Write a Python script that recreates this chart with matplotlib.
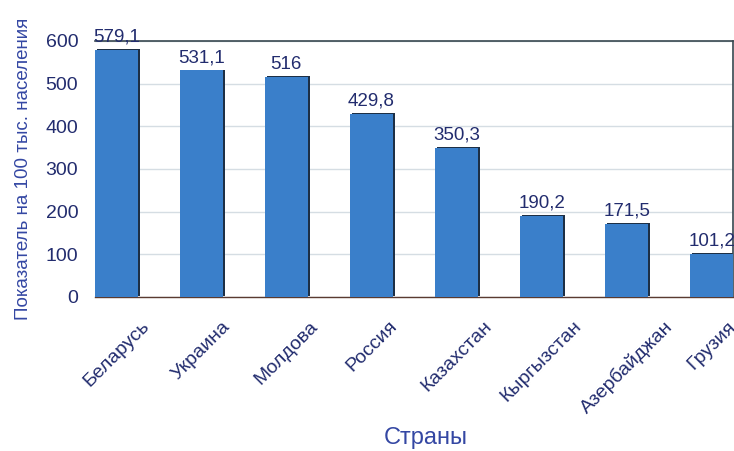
import matplotlib
matplotlib.use("Agg")
import matplotlib.pyplot as plt
import matplotlib.transforms as mtransforms
import numpy as np

countries = ["Беларусь", "Украина", "Молдова", "Россия", "Казахстан",
             "Кыргызстан", "Азербайджан", "Грузия"]
values = [579.1, 531.1, 516, 429.8, 350.3, 190.2, 171.5, 101.2]
yticks = [0, 100, 200, 300, 400, 500, 600]

plt.rcParams["font.family"] = ["Liberation Sans", "DejaVu Sans"]

bar_color = "#3a7fca"
text_color = "#222c6e"
label_color = "#3447a3"

fig = plt.figure(figsize=(7.34, 4.51), dpi=100)
ax = fig.add_axes([0.1294, 0.3415, 0.8692, 0.5676])

x = np.arange(len(countries))

# dark shadow shifted to the right, then the blue bars on top
shadow = mtransforms.offset_copy(ax.transData, fig=fig, x=2, y=0.5, units="dots")
ax.bar(x, values, width=0.5, color="#1d2f45", transform=shadow, zorder=2)
ax.bar(x, values, width=0.5, color=bar_color, zorder=3)

for xi, v in zip(x, values):
    txt = f"{v:g}".replace(".", ",")
    ax.annotate(txt, (xi, v), xytext=(0, 3), textcoords="offset points",
                ha="center", va="bottom", fontsize=13.5, color=text_color,
                zorder=5, annotation_clip=False)

ax.set_xlim(-0.25, len(countries) - 0.75)
ax.set_ylim(0, 600)
ax.set_yticks(yticks)
ax.set_yticklabels([str(t) for t in yticks], fontsize=14, color=text_color)
ax.tick_params(axis="y", length=0, pad=12)
ax.tick_params(axis="x", length=0, pad=15)
ax.set_xticks(x)
ax.set_xticklabels(countries, rotation=45, ha="center", va="top",
                   fontsize=14, color=text_color)

ax.grid(axis="y", color="#d5dde3", linewidth=1.0, zorder=0)
ax.set_axisbelow(True)

ax.spines["left"].set_visible(False)
for side in ("top", "right"):
    ax.spines[side].set_color("#37474f")
    ax.spines[side].set_linewidth(1.2)
ax.spines["bottom"].set_color("#5a3a30")
ax.spines["bottom"].set_linewidth(1.0)

ax.set_ylabel("Показатель на 100 тыс. населения", fontsize=13.5,
              color=label_color, labelpad=10)
fig.text(0.580, 0.029, "Страны", ha="center", va="center",
         fontsize=17, color=label_color)

fig.savefig("out.png", dpi=100)
